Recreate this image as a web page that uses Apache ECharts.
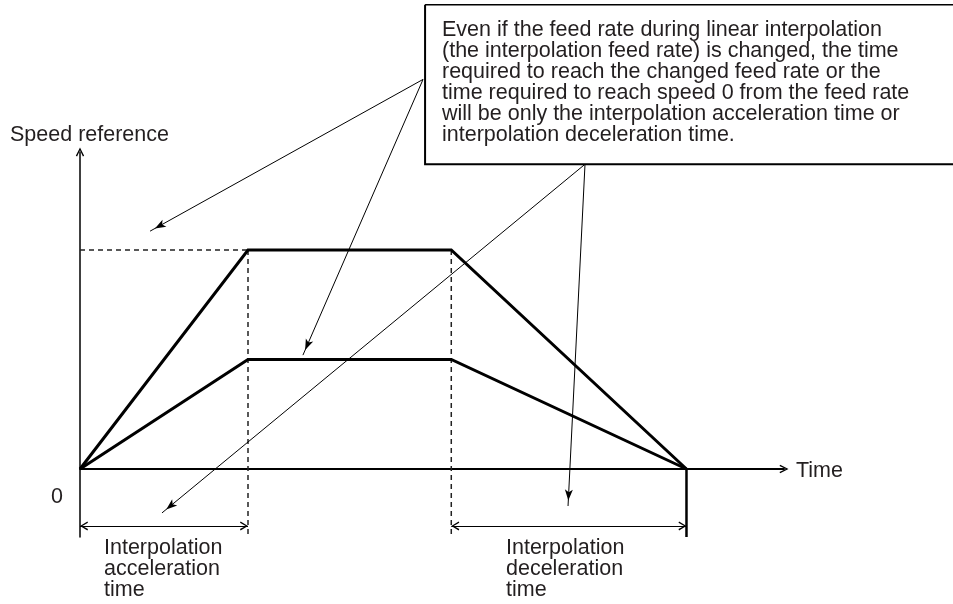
<!DOCTYPE html>
<html><head><meta charset="utf-8">
<script src="https://cdn.jsdelivr.net/npm/echarts@6/dist/echarts.min.js"></script>
<style>html,body{margin:0;padding:0;background:#fff}#c{width:953px;height:604px}</style>
</head><body><div id="c"></div>
<script>
// ---------- data (time in units of the interpolation acceleration time,
//            speed in units of the lower feed rate)
const timeKnots      = [0, 1, 2.21, 3.61];
const fastFeedSpeed  = [0, 2, 2, 0];
const slowFeedSpeed  = [0, 1, 1, 0];
const accelInterval  = [0, 1];
const decelInterval  = [2.21, 3.61];
const dimensionLevel = -0.52;
const guideBottom    = -0.621;
const calloutLeft = 2.054, calloutRight = 5.3, calloutBottom = 2.783, calloutTop = 4.24;
const calloutTopAnchor     = [2.042, 3.558];
const calloutTopTargets    = [[0.417, 2.172], [1.327, 1.040]];
const calloutBottomAnchor  = [3.006, 2.783];
const calloutBottomTargets = [[0.488, -0.401], [2.905, -0.338]];
const yAxisName = 'Speed reference';
const xAxisName = 'Time';
const originLabel = '0';
const accelLabel = 'Interpolation\nacceleration\ntime';
const decelLabel = 'Interpolation\ndeceleration\ntime';
const noteText = 'Even if the feed rate during linear interpolation\n(the interpolation feed rate) is changed, the time\nrequired to reach the changed feed rate or the\ntime required to reach speed 0 from the feed rate\nwill be only the interpolation acceleration time or\ninterpolation deceleration time.';

// ---------- layout
const L = { W: 953, H: 604, x0: 80, y0: 469, xu: 168, yu: 109.5, axisRight: 784, axisTop: 152, axisBottom: 537 };
const FONT = '21.5px "Liberation Sans", Arial, Helvetica, sans-serif';
const TXT = '#231f20';
const INK = '#000';
const chevron = 'path://M0,10L5,0L10,10L8.5,10.8L5,3.2L1.5,10.8Z';

const zip = (xs, ys) => xs.map((x, i) => [x, ys[i]]);
function line(data, width, type, color) {
  return { type: 'line', xAxisIndex: 1, yAxisIndex: 1, data, symbol: 'none', clip: false, silent: true,
    animation: false, lineStyle: { width, type, color: color || INK, cap: 'butt', join: 'miter' } };
}
function arrows(pairs, symbol, size, offset) {
  return { type: 'line', xAxisIndex: 1, yAxisIndex: 1, data: [], clip: false, silent: true, animation: false,
    markLine: { silent: true, animation: false, symbol, symbolSize: size, symbolOffset: offset,
      label: { show: false }, emphasis: { disabled: true },
      lineStyle: { color: INK, width: 1, type: 'solid' },
      data: pairs.map(p => [{ coord: p[0] }, { coord: p[1] }]) } };
}

const chart = echarts.init(document.getElementById('c'), null, { renderer: 'canvas' });
const hidden = { show: false };
chart.setOption({
  backgroundColor: '#fff',
  animation: false,
  grid: [
    { left: L.x0, right: L.W - L.axisRight, top: L.axisTop, bottom: L.H - L.axisBottom },
    { left: 0, right: 0, top: 0, bottom: 0 }
  ],
  xAxis: [
    { type: 'value', gridIndex: 0, min: 0, max: (L.axisRight - L.x0) / L.xu,
      axisLine: { show: true, onZero: true, symbol: ['none', chevron], symbolSize: [9, 9], lineStyle: { color: INK, width: 2 } },
      axisTick: hidden, axisLabel: hidden, splitLine: hidden },
    { type: 'value', gridIndex: 1, min: -L.x0 / L.xu, max: (L.W - L.x0) / L.xu, show: false }
  ],
  yAxis: [
    { type: 'value', gridIndex: 0, min: -(L.axisBottom - L.y0) / L.yu, max: (L.y0 - L.axisTop) / L.yu,
      axisLine: { show: true, onZero: false, symbol: ['none', chevron], symbolSize: [9, 9], lineStyle: { color: INK, width: 1.5 } },
      axisTick: hidden, axisLabel: hidden, splitLine: hidden },
    { type: 'value', gridIndex: 1, min: -(L.H - L.y0) / L.yu, max: L.y0 / L.yu, show: false }
  ],
  series: [
    // dashed guides
    line([[timeKnots[0], fastFeedSpeed[1]], [timeKnots[1], fastFeedSpeed[1]]], 1.5, [5, 4], '#222'),
    line([[timeKnots[1], fastFeedSpeed[1]], [timeKnots[1], guideBottom]], 1.5, [5, 4], '#222'),
    line([[timeKnots[2], fastFeedSpeed[2]], [timeKnots[2], guideBottom]], 1.5, [5, 4], '#222'),
    // stop marker
    line([[timeKnots[3], 0], [timeKnots[3], guideBottom]], 2.5, 'solid'),
    // speed profiles
    line(zip(timeKnots, fastFeedSpeed), 3, 'solid'),
    line(zip(timeKnots, slowFeedSpeed), 3, 'solid'),
    // callout box
    line([[calloutLeft, calloutTop], [calloutRight, calloutTop]], 1.5, 'solid'),
    line([[calloutLeft, calloutTop], [calloutLeft, calloutBottom], [calloutRight, calloutBottom]], 2, 'solid'),
    // leader arrows
    arrows(calloutTopTargets.map(t => [calloutTopAnchor, t]).concat(calloutBottomTargets.map(t => [calloutBottomAnchor, t])),
      ['none', 'arrow'], [6, 11], [0, [0, 5.5]]),
    // dimension arrows
    arrows([[[accelInterval[0], dimensionLevel], [accelInterval[1], dimensionLevel]],
            [[decelInterval[0], dimensionLevel], [decelInterval[1], dimensionLevel]]],
      [chevron, chevron], [9, 8], [[0, 4], [0, 4]])
  ],
  graphic: [
    { type: 'text', x: 10, y: 135, silent: true, style: { text: yAxisName, font: FONT, fill: TXT, verticalAlign: 'middle' } },
    { type: 'text', x: 57, y: 497, silent: true, style: { text: originLabel, font: FONT, fill: TXT, align: 'center', verticalAlign: 'middle' } },
    { type: 'text', x: 796, y: 471, silent: true, style: { text: xAxisName, font: FONT, fill: TXT, verticalAlign: 'middle' } },
    { type: 'text', x: 104, y: 537.5, silent: true, style: { text: accelLabel, font: FONT, lineHeight: 21, fill: TXT, verticalAlign: 'top' } },
    { type: 'text', x: 506, y: 537.5, silent: true, style: { text: decelLabel, font: FONT, lineHeight: 21, fill: TXT, verticalAlign: 'top' } },
    { type: 'text', x: 442, y: 19.5, silent: true, style: { text: noteText, font: FONT, lineHeight: 21, fill: TXT, verticalAlign: 'top' } }
  ]
});
</script></body></html>
